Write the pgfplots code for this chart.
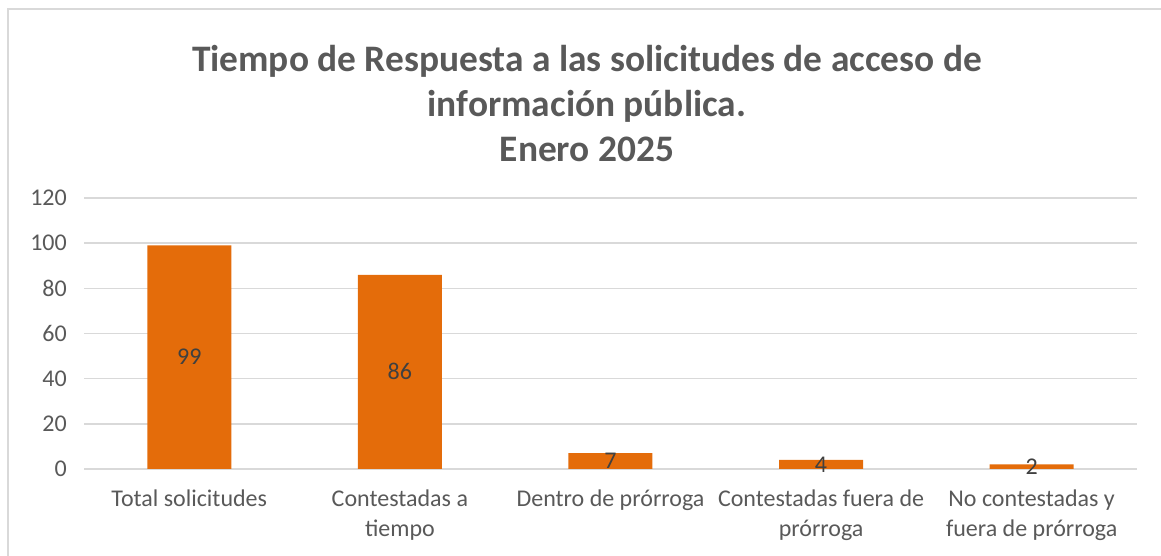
\documentclass[border=0pt]{standalone}
\usepackage{pgfplots}
\pgfplotsset{compat=1.18}
\usepackage{fontspec}
\setmainfont{Carlito}
\definecolor{barorange}{HTML}{E46C0A}
\definecolor{txtgray}{HTML}{595959}
\definecolor{lblgray}{HTML}{404040}
\definecolor{gridgray}{HTML}{D9D9D9}
\begin{document}
\begin{tikzpicture}[x=1pt,y=1pt]
\useasboundingbox (0,0) rectangle (1161,556);
\draw[gridgray, line width=2pt] (7.5,-2) -- (7.5,547) -- (1165,547);
\node[anchor=base, font=\fontsize{37.4}{45}\selectfont\bfseries, text=txtgray] at (587,556-72) {Tiempo de Respuesta a las solicitudes de acceso de};
\node[anchor=base, font=\fontsize{37.4}{45}\selectfont\bfseries, text=txtgray] at (587,556-117) {información pública.};
\node[anchor=base, font=\fontsize{37.4}{45}\selectfont\bfseries, text=txtgray] at (587,556-162) {Enero 2025};
\begin{axis}[
  at={(84pt,87pt)}, anchor=south west,
  scale only axis, width=1053pt, height=271pt,
  xmin=-0.5, xmax=4.5, ymin=0, ymax=120,
  ytick={0,20,...,120},
  xtick={0,1,2,3,4},
  xticklabels={Total solicitudes, {Contestadas a\\tiempo}, Dentro de prórroga, {Contestadas fuera de\\prórroga}, {No contestadas y\\fuera de prórroga}},
  axis lines*=left,
  y axis line style={draw=none},
  x axis line style={gridgray, line width=1.5pt, -},
  ymajorgrids, grid style={gridgray, line width=1.5pt},
  major tick length=0pt,
  yticklabel style={font=\fontsize{24}{29}\selectfont, text=txtgray, anchor=east, inner sep=0pt, xshift=-17pt},
  xticklabel style={font=\fontsize{24}{30}\selectfont, text=txtgray, align=center, anchor=north, inner sep=0pt, yshift=-21pt},
  /pgf/number format/assume math mode=true,
  clip=false,
]
\addplot[ybar, bar width=84pt, fill=barorange, draw=none,
  nodes near coords,
  visualization depends on={rawy \as \rawy},
  every node near coord/.append style={font=\fontsize{24}{29}\selectfont, text=lblgray, anchor=center, yshift={-1.12917pt*\rawy}},
] coordinates {(0,99) (1,86) (2,7) (3,4) (4,2)};
\end{axis}
\end{tikzpicture}
\end{document}
